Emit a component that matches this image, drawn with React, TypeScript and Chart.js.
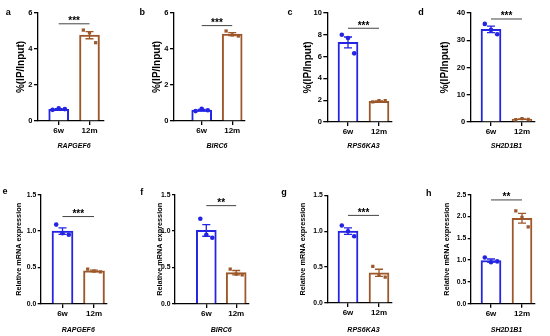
import React, { useEffect, useRef } from 'react';
import { Chart, registerables } from 'chart.js';

Chart.register(...registerables);

// ---------------- data ----------------
const CATEGORIES = ['6w', '12m'];
const GENES = ['RAPGEF6', 'BIRC6', 'RPS6KA3', 'SH2D1B1', 'RAPGEF6', 'BIRC6', 'RPS6KA3', 'SH2D1B1'];
const LETTERS = ['a', 'b', 'c', 'd', 'e', 'f', 'g', 'h'];
const Y_TITLE_TOP = '%(IP/Input)';
const Y_TITLE_BOTTOM = 'Relative mRNA expression';

const MEAN_6W = [0.65, 0.6, 7.3, 34.0, 1.0, 1.01, 1.0, 0.99];
const SEM_6W = [0.03, 0.04, 0.5, 1.2, 0.045, 0.08, 0.045, 0.035];
const MEAN_12M = [4.77, 4.83, 1.9, 1.03, 0.455, 0.43, 0.42, 1.96];
const SEM_12M = [0.2, 0.08, 0.04, 0.09, 0.01, 0.03, 0.05, 0.11];

const POINTS_6W = [
  [0.62, 0.7, 0.66],
  [0.55, 0.68, 0.6],
  [8.0, 7.7, 6.3],
  [36.0, 33.8, 32.2],
  [1.09, 0.97, 0.95],
  [1.17, 0.95, 0.91],
  [1.08, 1.0, 0.93],
  [1.06, 0.95, 0.97],
];
const POINTS_12M = [
  [5.05, 4.9, 4.35],
  [5.0, 4.78, 4.72],
  [1.85, 1.95, 1.95],
  [0.9, 1.2, 1.0],
  [0.48, 0.45, 0.44],
  [0.48, 0.41, 0.4],
  [0.51, 0.39, 0.36],
  [2.13, 1.98, 1.76],
];

const SIG_Y = [5.4, 5.3, 8.6, 37.8, 1.2, 1.35, 1.22, 2.38];
const SIG_LABEL = ['***', '***', '***', '***', '***', '**', '***', '**'];
const Y_MAX = [6, 6, 10, 40, 1.5, 1.5, 1.5, 2.5];
const Y_STEP = [2, 2, 2, 10, 0.5, 0.5, 0.5, 0.5];

// ---------------- layout / style ----------------
const BLUE = '#2424e4';
const BROWN = '#9c572a';
const FONT = "'Liberation Sans', Arial, Helvetica, sans-serif";
Chart.defaults.font.family = FONT;

type Geo = {
  px: number; py: number; w: number; h: number;
  left: number; right: number; top: number; bottom: number;
  c0: number; c1: number; titleX: number; barW: number;
  lx: number; ly: number; geneY: number;
};

const PANELS: Geo[] = [
  { px: 0, py: 0, w: 135, h: 168, left: 38, right: 104, top: 13, bottom: 121, c0: 58.7, c1: 89.5, titleX: 21.3, barW: 20, lx: 8.3, ly: 15, geneY: 146 },
  { px: 135, py: 0, w: 135, h: 168, left: 174, right: 245, top: 13, bottom: 121, c0: 201.7, c1: 232.2, titleX: 157, barW: 20, lx: 142.3, ly: 15, geneY: 146 },
  { px: 270, py: 0, w: 135, h: 168, left: 327.3, right: 392, top: 13, bottom: 122, c0: 348, c1: 379, titleX: 308, barW: 20, lx: 290, ly: 15.3, geneY: 146 },
  { px: 405, py: 0, w: 145, h: 168, left: 470.7, right: 535, top: 13, bottom: 122, c0: 491, c1: 522, titleX: 445.5, barW: 20, lx: 421, ly: 15, geneY: 146 },
  { px: 0, py: 168, w: 135, h: 168, left: 40.7, right: 107, top: 194.7, bottom: 304, c0: 62.5, c1: 94, titleX: 18.8, barW: 21, lx: 5, ly: 194, geneY: 330 },
  { px: 135, py: 168, w: 135, h: 168, left: 175, right: 249, top: 194.7, bottom: 304, c0: 206.3, c1: 236.2, titleX: 160, barW: 20, lx: 141.7, ly: 194.7, geneY: 330 },
  { px: 270, py: 168, w: 135, h: 168, left: 327.3, right: 392, top: 195.3, bottom: 303, c0: 348, c1: 379, titleX: 303.3, barW: 20, lx: 284, ly: 194.7, geneY: 330 },
  { px: 405, py: 168, w: 145, h: 168, left: 470.7, right: 535, top: 194.7, bottom: 303.7, c0: 491, c1: 522, titleX: 446.7, barW: 20, lx: 428.7, ly: 196.3, geneY: 330 },
];

const extrasPlugin = {
  id: 'panelExtras',
  afterDatasetsDraw(chart: any, _args: any, opts: any) {
    const i = opts.i as number;
    const { ctx } = chart;
    const x = chart.scales.x;
    const y = chart.scales.y;
    const groups = [
      { g: 0, m: MEAN_6W[i], s: SEM_6W[i], c: BLUE },
      { g: 1, m: MEAN_12M[i], s: SEM_12M[i], c: BROWN },
    ];
    ctx.save();
    ctx.lineWidth = 1.3;
    for (const gr of groups) {
      const xc = x.getPixelForValue(gr.g);
      const yt = y.getPixelForValue(gr.m + gr.s);
      const yb = y.getPixelForValue(Math.max(0, gr.m - gr.s));
      ctx.strokeStyle = gr.c;
      ctx.beginPath();
      ctx.moveTo(xc, yt);
      ctx.lineTo(xc, yb);
      ctx.moveTo(xc - 4, yt);
      ctx.lineTo(xc + 4, yt);
      ctx.moveTo(xc - 4, yb);
      ctx.lineTo(xc + 4, yb);
      ctx.stroke();
    }
    ctx.restore();
  },
  afterDraw(chart: any, _args: any, opts: any) {
    const i = opts.i as number;
    const g = PANELS[i];
    const { ctx } = chart;
    const x = chart.scales.x;
    const y = chart.scales.y;
    ctx.save();
    // significance bar
    const ys = y.getPixelForValue(SIG_Y[i]);
    const x0 = x.getPixelForValue(0);
    const x1 = x.getPixelForValue(1);
    ctx.strokeStyle = '#444';
    ctx.lineWidth = 1;
    ctx.beginPath();
    ctx.moveTo(x0, ys);
    ctx.lineTo(x1, ys);
    ctx.stroke();
    ctx.fillStyle = '#000';
    ctx.font = `bold 10px ${FONT}`;
    ctx.textAlign = 'center';
    ctx.textBaseline = 'alphabetic';
    ctx.fillText(SIG_LABEL[i], (x0 + x1) / 2, ys + 0.5);
    // gene name
    ctx.font = `italic bold 7px ${FONT}`;
    ctx.textBaseline = 'middle';
    ctx.fillText(GENES[i], x.getPixelForValue(0.5), g.geneY - g.py);
    // panel letter
    ctx.font = `bold 9px ${FONT}`;
    ctx.textBaseline = 'alphabetic';
    ctx.fillText(LETTERS[i], g.lx - g.px, g.ly - g.py);
    ctx.restore();
  },
};

function Panel({ i }: { i: number }) {
  const ref = useRef<HTMLCanvasElement | null>(null);
  const g = PANELS[i];
  useEffect(() => {
    if (!ref.current) return;
    const unit = g.c1 - g.c0;
    const isTop = i < 4;
    const titleSize = isTop ? 10 : 7.3;
    const gridX = { display: true, drawOnChartArea: false, drawTicks: true, tickLength: 4, color: '#000', lineWidth: 1.3, offset: false };
    const gridY = { ...gridX, tickLength: isTop ? 4 : 3 };
    const border = { display: true, color: '#000', width: 1.3 };
    const chart = new Chart(ref.current, {
      type: 'bar',
      data: {
        datasets: [
          {
            type: 'bar',
            data: [{ x: 0, y: MEAN_6W[i] }, { x: 1, y: MEAN_12M[i] }],
            backgroundColor: '#ffffff',
            borderColor: [BLUE, BROWN],
            borderWidth: 2,
            borderSkipped: 'start',
            barThickness: g.barW,
            order: 3,
          } as any,
          {
            type: 'scatter',
            data: POINTS_6W[i].map((v, k) => ({ x: (k - 1) * 0.2, y: v })),
            pointStyle: 'circle',
            pointRadius: 2.3,
            backgroundColor: BLUE,
            borderColor: BLUE,
            borderWidth: 0,
            order: 1,
          } as any,
          {
            type: 'scatter',
            data: POINTS_12M[i].map((v, k) => ({ x: 1 + (k - 1) * 0.2, y: v })),
            pointStyle: 'rect',
            pointRadius: 2.3,
            backgroundColor: BROWN,
            borderColor: BROWN,
            borderWidth: 0,
            order: 1,
          } as any,
        ],
      },
      options: {
        animation: false,
        responsive: false,
        maintainAspectRatio: false,
        events: [],
        layout: { padding: { left: 0, top: g.top - g.py, right: g.px + g.w - g.right, bottom: 0 } },
        plugins: {
          legend: { display: false },
          tooltip: { enabled: false },
          panelExtras: { i },
        } as any,
        scales: {
          x: {
            type: 'linear',
            offset: false,
            min: (g.left - g.c0) / unit,
            max: (g.right - g.c0) / unit,
            grid: gridX,
            border,
            ticks: {
              font: { family: FONT, size: 8, weight: 'bold' },
              color: '#000',
              padding: 1,
              maxRotation: 0,
              autoSkip: false,
              callback: (v: any) => CATEGORIES[v] ?? '',
            },
            afterBuildTicks: (s: any) => {
              s.ticks = [{ value: 0 }, { value: 1 }];
            },
            afterFit: (s: any) => {
              s.height = g.py + g.h - g.bottom;
              s.paddingLeft = 0;
              s.paddingRight = 0;
            },
          } as any,
          y: {
            type: 'linear',
            offset: false,
            min: 0,
            max: Y_MAX[i],
            grid: gridY,
            border,
            ticks: {
              stepSize: Y_STEP[i],
              font: { family: FONT, size: isTop ? 7.5 : 6.8, weight: 'bold' },
              color: '#000',
              padding: 1.5,
              callback: (v: any) => (isTop ? String(v) : Number(v).toFixed(1)),
            },
            title: {
              display: true,
              text: isTop ? Y_TITLE_TOP : Y_TITLE_BOTTOM,
              color: '#000',
              font: { family: FONT, size: titleSize, weight: 'bold' },
              padding: { top: g.titleX - g.px - (titleSize * 1.2) / 2, bottom: 0 },
            },
            afterFit: (s: any) => {
              s.width = g.left - g.px;
              s.paddingTop = 0;
              s.paddingBottom = 0;
            },
          } as any,
        },
      },
      plugins: [extrasPlugin],
    });
    return () => chart.destroy();
  }, [i]);
  return (
    <canvas
      ref={ref}
      width={g.w}
      height={g.h}
      style={{ position: 'absolute', left: g.px, top: g.py, width: g.w, height: g.h }}
    />
  );
}

export default function App() {
  return (
    <div style={{ position: 'fixed', left: 0, top: 0, width: 550, height: 336, background: '#fff', overflow: 'hidden' }}>
      {PANELS.map((_, i) => (
        <Panel key={i} i={i} />
      ))}
    </div>
  );
}
